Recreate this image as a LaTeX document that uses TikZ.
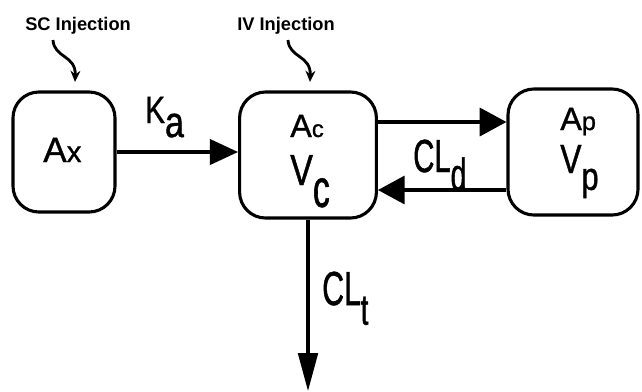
\documentclass[tikz,border=0pt]{standalone}
\usepackage{fontspec}
\setmainfont{Liberation Sans}
\newfontfamily\plainfont[FakeBold=1]{Liberation Sans}
\newfontfamily\narrowfont[FakeStretch=0.63,FakeBold=1]{Liberation Sans}
\newfontfamily\midfont[FakeStretch=0.78,FakeBold=1]{Liberation Sans}
\usetikzlibrary{arrows.meta}

\begin{document}
\begin{tikzpicture}[x=.025cm,y=-.025cm]
  \useasboundingbox (0,0) rectangle (642,391);
  \tikzset{comp/.style={draw,line width=2.2pt,rounded corners=.65cm,inner sep=0pt},
    lbl/.style={inner sep=0pt,anchor=base west},
    flow/.style={line width=2.2pt,-{Triangle[length=20pt,width=18pt]}},
    inj/.style={line width=2pt,-{Stealth[length=8pt,width=7pt]}}}
  % compartments
  \node[comp,minimum width=2.55cm,minimum height=3cm] (ax) at (64,152) {};
  \node[comp,minimum width=3.42cm,minimum height=3.15cm] (vc) at (308,155) {};
  \node[comp,minimum width=3.25cm,minimum height=3.15cm] (ap) at (573,152) {};
  % labels
  \node[lbl,font=\bfseries\fontsize{13}{15}\selectfont] (sc) at (25,30) {SC Injection};
  \node[lbl,font=\bfseries\fontsize{13}{15}\selectfont] (iv) at (237,30) {IV Injection};
  \node[lbl,font=\plainfont\fontsize{25}{25}\selectfont] (axl) at (43,162)
    {A{\fontsize{21}{21}\selectfont x}};
  \node[lbl,font=\plainfont\fontsize{23}{23}\selectfont] (acl) at (290,137)
    {A{\fontsize{17}{17}\selectfont c}};
  \node[lbl,font=\plainfont\fontsize{23}{23}\selectfont] (apl) at (560,130)
    {A{\fontsize{18}{18}\selectfont p}};
  \node[lbl,font=\midfont\fontsize{31}{31}\selectfont] (vcl) at (290,185)
    {V\raisebox{-15.6pt}{\narrowfont\fontsize{38}{38}\selectfont c}};
  \node[lbl,font=\midfont\fontsize{29}{29}\selectfont] (vpl) at (560,173)
    {V\raisebox{-12pt}{\fontsize{28}{28}\selectfont p}};
  \node[lbl,font=\midfont\fontsize{27}{27}\selectfont] (ka) at (145,123)
    {K\raisebox{-10pt}{\fontsize{31}{31}\selectfont a}};
  \node[lbl,font=\narrowfont\fontsize{33}{33}\selectfont] (cld) at (413,172)
    {CL\raisebox{-12.8pt}{\fontsize{32}{32}\selectfont d}};
  \node[lbl,font=\narrowfont\fontsize{34}{34}\selectfont] (clt) at (322,305)
    {CL\raisebox{-14pt}{\fontsize{31}{31}\selectfont t}};
  % injections
  \coordinate (sc0) at (53,40);
  \coordinate (sc1) at (75,82);
  \coordinate (iv0) at (288,40);
  \coordinate (iv1) at (310,82);
  \draw[inj] (sc0) .. controls (54,58) and (76,55) .. (sc1);
  \draw[inj] (iv0) .. controls (289,58) and (311,55) .. (iv1);
  % transfers
  \coordinate (dtop) at (0,122);
  \coordinate (dbot) at (0,190);
  \coordinate (elim) at (0,391);
  \draw[flow] (ax) -- (ax -| vc.west);
  \draw[flow,-{Triangle[length=19pt,width=20pt]}] (vc.east |- dtop) -- (ap.west |- dtop);
  \draw[flow,-{Triangle[length=19pt,width=20pt]}] (ap.west |- dbot) -- (vc.east |- dbot);
  \draw[flow,-{Triangle[length=27pt,width=14pt]}] (vc.south) -- (vc.south |- elim);
\end{tikzpicture}
\end{document}
